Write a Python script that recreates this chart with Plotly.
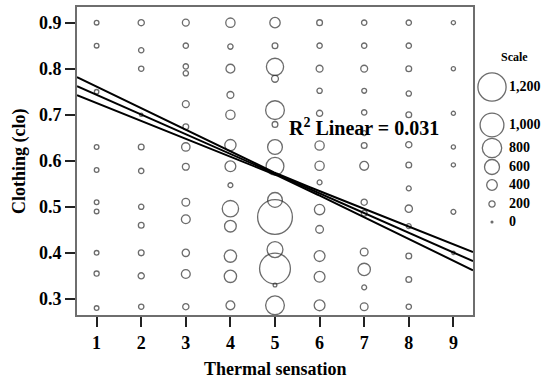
import numpy as np
import plotly.graph_objects as go

# Bubble data: thermal sensation vote, clothing insulation (clo), number of responses
thermal = (
    [1] * 10 + [2] * 11 + [3] * 13 + [4] * 13 + [5] * 14 +
    [6] * 13 + [7] * 14 + [8] * 13 + [9] * 7
)
clo = [
    0.90, 0.85, 0.75, 0.63, 0.58, 0.51, 0.49, 0.40, 0.355, 0.28,
    0.90, 0.84, 0.80, 0.70, 0.63, 0.578, 0.50, 0.46, 0.40, 0.35, 0.283,
    0.90, 0.85, 0.805, 0.79, 0.723, 0.674, 0.63, 0.587, 0.51, 0.473, 0.40, 0.354, 0.283,
    0.90, 0.848, 0.80, 0.743, 0.70, 0.634, 0.588, 0.547, 0.496, 0.458, 0.393, 0.349, 0.286,
    0.90, 0.85, 0.804, 0.778, 0.71, 0.679, 0.63, 0.588, 0.515, 0.478, 0.407, 0.366, 0.33, 0.286,
    0.90, 0.85, 0.80, 0.752, 0.703, 0.633, 0.589, 0.553, 0.494, 0.451, 0.393, 0.348, 0.286,
    0.90, 0.85, 0.80, 0.752, 0.705, 0.66, 0.633, 0.589, 0.51, 0.486, 0.402, 0.364, 0.325, 0.283,
    0.90, 0.85, 0.80, 0.746, 0.70, 0.635, 0.591, 0.54, 0.496, 0.458, 0.393, 0.342, 0.283,
    0.90, 0.80, 0.703, 0.63, 0.591, 0.489, 0.40,
]
count = [
    130, 130, 120, 130, 130, 130, 130, 130, 150, 130,
    200, 160, 160, 70, 180, 160, 160, 180, 180, 200, 160,
    230, 160, 160, 160, 230, 180, 300, 230, 270, 320, 250, 320, 200,
    340, 160, 320, 230, 340, 430, 410, 140, 660, 450, 480, 480, 320,
    390, 180, 700, 230, 770, 180, 590, 730, 590, 1500, 640, 1320, 90, 770,
    180, 160, 230, 160, 200, 340, 340, 140, 390, 270, 410, 410, 410,
    160, 160, 230, 140, 160, 140, 180, 320, 200, 180, 270, 480, 140, 270,
    160, 160, 180, 160, 180, 200, 180, 140, 250, 140, 180, 180, 160,
    110, 110, 110, 110, 110, 140, 70,
]

# Size legend entries
scale_values = [1200, 1000, 800, 600, 400, 200, 0]
scale_labels = ["1,200", "1,000", "800", "600", "400", "200", "0"]

# Linear fit with 95% confidence band for the mean
fit_intercept = 0.786
fit_slope = -0.0428
ci_at_mean = 0.002
ci_growth = 0.00443
x_mean = 5.0
r2_text = "R<sup>2</sup> Linear = 0.031"

x_ticks = [1, 2, 3, 4, 5, 6, 7, 8, 9]
y_ticks = [0.3, 0.4, 0.5, 0.6, 0.7, 0.8, 0.9]


def diameter(n):
    return 1.8 + 0.022 * np.asarray(n, dtype=float)


SERIF = "Liberation Serif, Times New Roman, serif"
RING = "#2e2e2e"

fig = go.Figure()

fig.add_trace(go.Scatter(
    x=thermal, y=clo, mode="markers",
    marker=dict(size=diameter(count), sizemode="diameter", symbol="circle",
                color="rgba(0,0,0,0)", line=dict(color=RING, width=1.3)),
    showlegend=False, hoverinfo="skip",
))

xs = np.linspace(0.56, 9.44, 200)
fit = fit_intercept + fit_slope * xs
half = np.sqrt(ci_at_mean ** 2 + (ci_growth * (xs - x_mean)) ** 2)
for ys in (fit + half, fit, fit - half):
    fig.add_trace(go.Scatter(x=xs, y=ys, mode="lines",
                             line=dict(color="black", width=2),
                             showlegend=False, hoverinfo="skip"))

# Size scale on its own small axis
legend_y = [87, 125, 148, 167, 185, 204, 222]
fig.add_trace(go.Scatter(
    x=[19] * len(scale_values), y=legend_y, mode="markers",
    marker=dict(size=diameter(scale_values), sizemode="diameter",
                color=["rgba(0,0,0,0)"] * 6 + [RING],
                line=dict(color=RING, width=1.3)),
    xaxis="x2", yaxis="y2", showlegend=False, hoverinfo="skip",
))
fig.add_trace(go.Scatter(
    x=[36] * len(scale_labels), y=legend_y, mode="text", text=scale_labels,
    texttemplate="<b>%{text}</b>", textposition="middle right",
    textfont=dict(family=SERIF, size=14, color="black"),
    xaxis="x2", yaxis="y2", showlegend=False, hoverinfo="skip",
))

plot_frac = (473 - 77) / (551 - 77)
tick_font = dict(family=SERIF, size=18, color="black")

fig.update_layout(
    width=551, height=381,
    margin=dict(l=77, r=0, t=7, b=66),
    paper_bgcolor="white", plot_bgcolor="white",
    xaxis=dict(domain=[0, plot_frac], range=[0.56, 9.44], tickvals=x_ticks,
               ticktext=[f"<b>{v}</b>" for v in x_ticks],
               showgrid=False, zeroline=False, showline=True, mirror=True,
               linecolor="#6e6e6e", linewidth=2, ticks="outside", ticklen=10,
               tickwidth=1.5, tickcolor="#222", tickfont=tick_font),
    yaxis=dict(range=[0.265, 0.934], tickvals=y_ticks,
               ticktext=[f"<b>{v:.1f}</b>" for v in y_ticks],
               showgrid=False, zeroline=False, showline=True, mirror=True,
               linecolor="#6e6e6e", linewidth=2, ticks="outside", ticklen=10,
               tickwidth=1.5, tickcolor="#222", tickfont=tick_font),
    xaxis2=dict(domain=[plot_frac, 1], range=[0, 78], visible=False,
                fixedrange=True),
    yaxis2=dict(domain=[0, 1], range=[315, 7], visible=False,
                fixedrange=True, anchor="x2"),
    annotations=[
        dict(text="<b>" + r2_text + "</b>", x=6.99, y=0.673, xref="x", yref="y",
             showarrow=False, font=dict(family=SERIF, size=20, color="black")),
        dict(text="<b>Thermal sensation</b>", x=(275 - 77) / 474, y=-0.175,
             xref="paper", yref="paper", xanchor="center", yanchor="middle",
             showarrow=False, font=dict(family=SERIF, size=18, color="black")),
        dict(text="<b>Clothing (clo)</b>", x=(19 - 77) / 474, y=0.5,
             xref="paper", yref="paper", xanchor="center", yanchor="middle",
             showarrow=False, textangle=-90,
             font=dict(family=SERIF, size=18, color="black")),
        dict(text="<b>Scale</b>", x=41, y=57, xref="x2", yref="y2",
             xanchor="center", yanchor="middle",
             showarrow=False, font=dict(family=SERIF, size=12, color="black")),
    ],
    font=dict(family=SERIF),
)

fig.write_html("out.html")
